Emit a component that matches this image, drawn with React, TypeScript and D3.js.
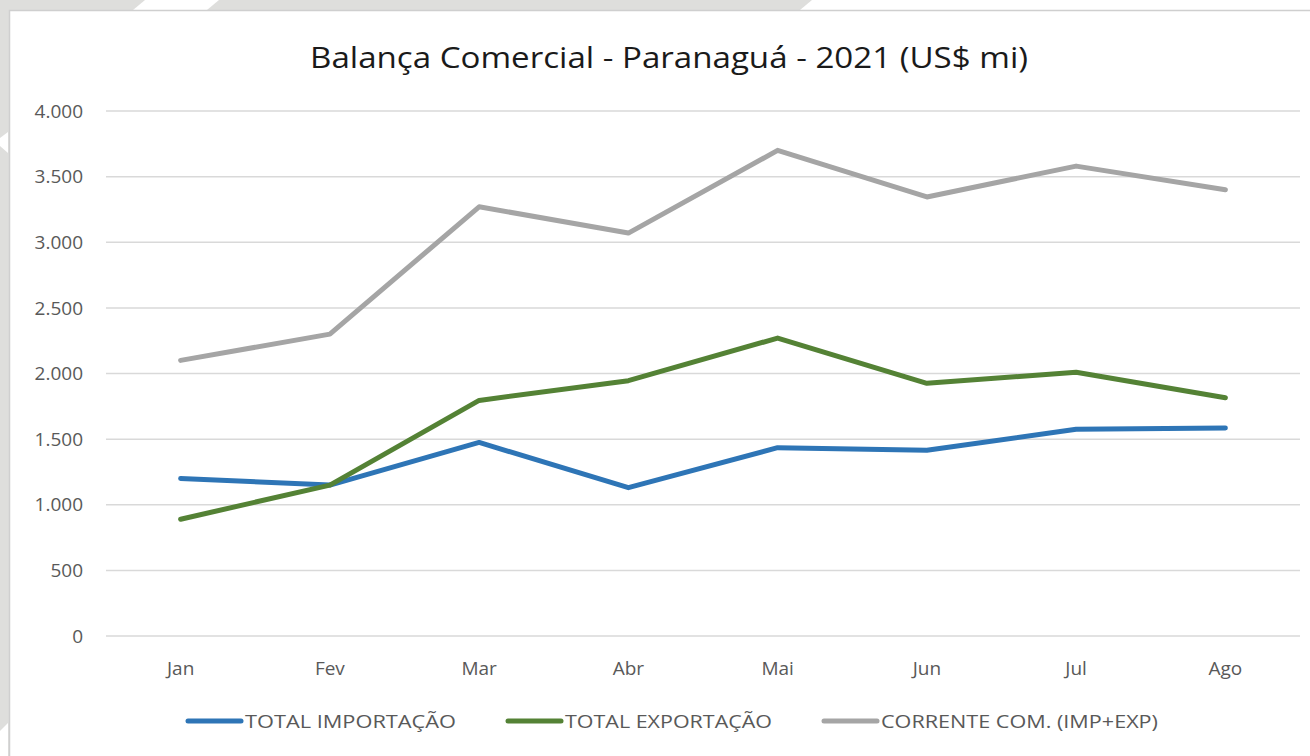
import React, { useEffect, useRef } from 'react';
import * as d3 from 'd3';

const months = ['Jan', 'Fev', 'Mar', 'Abr', 'Mai', 'Jun', 'Jul', 'Ago'];
const importacao = [1200, 1150, 1475, 1130, 1435, 1415, 1575, 1585];
const exportacao = [890, 1150, 1795, 1945, 2270, 1925, 2010, 1815];
const corrente = [2100, 2300, 3270, 3070, 3700, 3345, 3580, 3400];
const yTicks = [0, 500, 1000, 1500, 2000, 2500, 3000, 3500, 4000];
const seriesNames = ['TOTAL IMPORTAÇÃO', 'TOTAL EXPORTAÇÃO', 'CORRENTE COM. (IMP+EXP)'];
const seriesColors = ['#2E75B6', '#548235', '#A5A5A5'];

const FONT = '"Open Sans", Lato, sans-serif';

const App: React.FC = () => {
  const svgRef = useRef<SVGSVGElement>(null);

  useEffect(() => {
    if (!svgRef.current) return;
    const W = 1310;
    const H = 756;
    const svg = d3.select(svgRef.current);
    svg.selectAll('*').remove();
    svg.attr('width', W).attr('height', H);

    // decorative backdrop behind the chart panel
    svg.append('rect').attr('width', W).attr('height', H).attr('fill', '#DEDEDC');
    const white = [
      [[133, 10], [145, 0], [219, 0], [207, 10]],
      [[800, 10], [812, 0], [W, 0], [W, 10]],
      [[0, 138], [8, 132], [8, 153], [0, 146]],
      [[0, 731], [8, 723], [8, H], [0, H]],
    ];
    white.forEach(p => svg.append('polygon').attr('points', p.map(q => q.join(',')).join(' ')).attr('fill', '#fff'));
    svg.append('rect')
      .attr('x', 9.5).attr('y', 10.5).attr('width', W).attr('height', H)
      .attr('fill', '#fff').attr('stroke', '#CFCFCF').attr('stroke-width', 1.5);

    const x = d3.scalePoint<string>().domain(months).range([106, 1300]).padding(0.5);
    const y = d3.scaleLinear().domain([0, 4000]).range([636, 111]);
    const fmt = d3.formatLocale({ decimal: ',', thousands: '.', grouping: [3], currency: ['R$', ''] }).format(',');

    // title
    svg.append('text')
      .attr('x', 669).attr('y', 68)
      .attr('text-anchor', 'middle')
      .attr('font-family', FONT).attr('font-size', 29).attr('fill', '#1A1A1A')
      .attr('textLength', 718).attr('lengthAdjust', 'spacingAndGlyphs')
      .text('Balança Comercial - Paranaguá - 2021 (US$ mi)');

    // gridlines + y labels
    const g = svg.append('g');
    g.selectAll('line.grid').data(yTicks).enter().append('line')
      .attr('x1', 106).attr('x2', 1300)
      .attr('y1', d => y(d)).attr('y2', d => y(d))
      .attr('stroke', '#D9D9D9').attr('stroke-width', 1.5);
    g.selectAll('text.ytick').data(yTicks).enter().append('text')
      .attr('x', 83).attr('y', d => y(d)).attr('dy', '0.35em')
      .attr('text-anchor', 'end')
      .attr('font-family', FONT).attr('font-size', 19).attr('fill', '#595959')
      .text(d => fmt(d));

    // x labels
    g.selectAll('text.xtick').data(months).enter().append('text')
      .attr('x', d => x(d)!).attr('y', 675)
      .attr('text-anchor', 'middle')
      .attr('font-family', FONT).attr('font-size', 19).attr('fill', '#595959')
      .text(d => d);

    // lines
    const line = d3.line<number>().x((_, i) => x(months[i])!).y(d => y(d));
    [importacao, exportacao, corrente].forEach((s, i) => {
      svg.append('path')
        .datum(s)
        .attr('fill', 'none')
        .attr('stroke', seriesColors[i])
        .attr('stroke-width', 5)
        .attr('stroke-linejoin', 'round')
        .attr('stroke-linecap', 'round')
        .attr('d', line);
    });

    // legend
    const legendX = [186, 506, 822];
    const legendW = [211, 207, 277];
    const leg = svg.append('g');
    seriesNames.forEach((name, i) => {
      leg.append('line')
        .attr('x1', legendX[i] + 2).attr('x2', legendX[i] + 55)
        .attr('y1', 721).attr('y2', 721)
        .attr('stroke', seriesColors[i]).attr('stroke-width', 5).attr('stroke-linecap', 'round');
      leg.append('text')
        .attr('x', legendX[i] + 59).attr('y', 721).attr('dy', '0.35em')
        .attr('font-family', FONT).attr('font-size', 19).attr('fill', '#595959')
        .attr('textLength', legendW[i]).attr('lengthAdjust', 'spacingAndGlyphs')
        .text(name);
    });
  }, []);

  return (
    <div style={{ position: 'fixed', left: 0, top: 0, width: 1310, height: 756, overflow: 'hidden', background: '#fff' }}>
      <svg ref={svgRef} style={{ display: 'block' }}></svg>
    </div>
  );
};

export default App;
